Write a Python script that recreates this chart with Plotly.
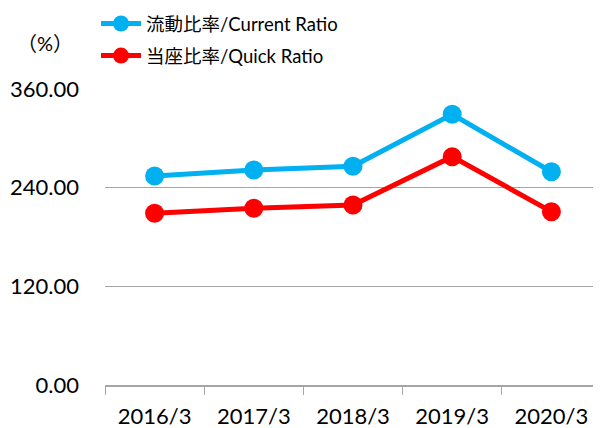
import plotly.graph_objects as go

# data
years = ["2016/3", "2017/3", "2018/3", "2019/3", "2020/3"]
current_ratio = [254.2, 261.5, 266.0, 329.2, 259.4]
quick_ratio = [208.8, 214.9, 218.9, 277.7, 210.8]
y_ticks = [0, 120, 240, 360]
y_tick_labels = ["0.00", "120.00", "240.00", "360.00"]

FONT = "Lato, 'Noto Sans CJK JP', sans-serif"

# page body has an 8px margin, so figure pixels = screen pixels - 8
W, H = 593, 420
L, T, R, B = 97, 81, 593, 377
PW, PH = R - L, B - T

fig = go.Figure()

fig.add_trace(go.Scatter(
    x=years, y=current_ratio,
    mode="lines+markers",
    name="流動比率/Current Ratio",
    legendgroup="a",
    line=dict(color="#00B0F0", width=5),
    marker=dict(color="#00B0F0", size=19),
    cliponaxis=False,
))

fig.add_trace(go.Scatter(
    x=years, y=quick_ratio,
    mode="lines+markers",
    name="当座比率/Quick Ratio",
    legendgroup="b",
    line=dict(color="#FF0000", width=5),
    marker=dict(color="#FF0000", size=19),
    cliponaxis=False,
))

fig.add_annotation(
    text="（%）", x=(37 - L) / PW, y=(B - 35) / PH,
    xref="paper", yref="paper", showarrow=False,
    xanchor="center", yanchor="middle",
    font=dict(family=FONT, size=20, color="#000000"),
)

fig.update_layout(
    width=W, height=H,
    margin=dict(l=L, r=W - R, t=T, b=H - B, autoexpand=False),
    plot_bgcolor="white", paper_bgcolor="white",
    font=dict(family=FONT, size=22, color="#000000"),
    showlegend=True,
    legend=dict(
        x=(88 - L) / PW, y=(B + 3) / PH,
        xanchor="left", yanchor="top",
        font=dict(family=FONT, size=18.5, color="#000000"),
        tracegroupgap=5,
        itemwidth=40,
        bgcolor="rgba(0,0,0,0)",
    ),
)

fig.update_xaxes(
    type="category",
    range=[-0.5, 4.5],
    automargin=False,
    showline=True, linecolor="#A6A6A6", linewidth=1.5,
    ticks="outside", tickson="boundaries", ticklen=8, tickcolor="#A6A6A6",
    showgrid=False,
    ticklabelstandoff=11,
)

fig.update_yaxes(
    range=[0, 360],
    automargin=False,
    tickvals=y_ticks, ticktext=y_tick_labels,
    showgrid=True, gridcolor="#A6A6A6", gridwidth=1.3,
    zeroline=False, showline=False,
    ticks="", ticklabelstandoff=25,
)

fig.write_html("out.html")
